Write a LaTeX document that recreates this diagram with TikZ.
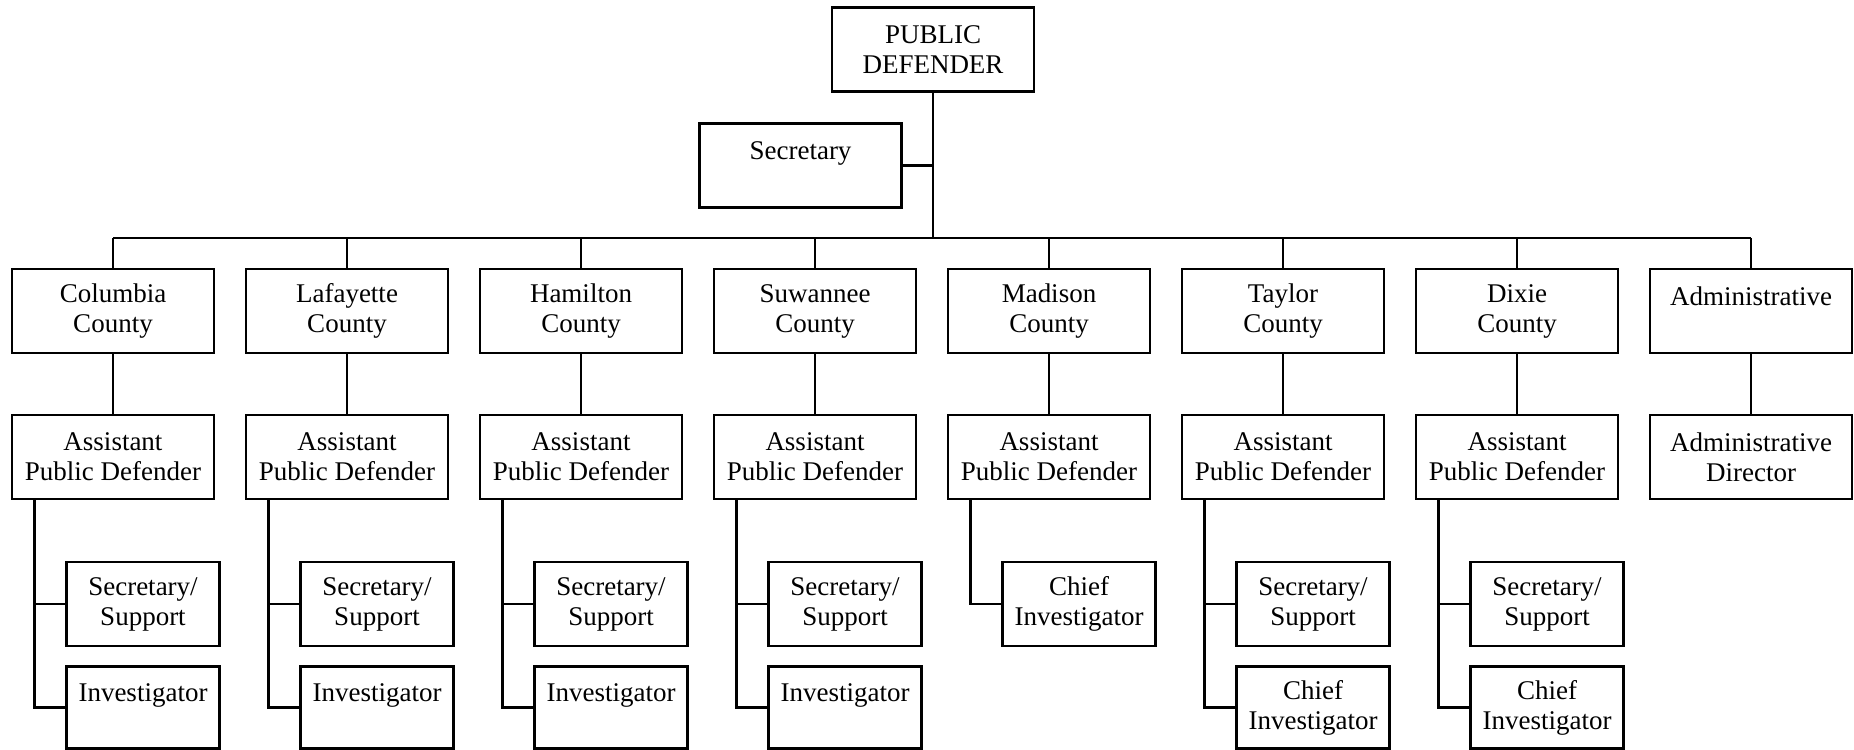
\documentclass[tikz,border=0pt]{standalone}
\usepackage{fontspec}
\setmainfont{Liberation Serif}
\usepackage{tikz}

\begin{document}
\begin{tikzpicture}[x=0.5pt, y=-0.5pt, line width=1.3pt,
		font=\fontsize{13.5}{15}\selectfont,
		unit/.style={draw, align=center, inner sep=2pt,
			minimum width=101pt, minimum height=42pt},
		staff/.style={draw, align=center, inner sep=2pt,
			minimum width=76.5pt, minimum height=42pt}]
	\useasboundingbox (0, 0) rectangle (1854, 750);

	\node[unit] (pd) at (933, 49.5) {PUBLIC\\DEFENDER};
	\node[unit] (sec) at (800.5, 165.5) {Secretary\\~};
	\coordinate (bus) at (933, 238);
	\draw (pd) -- (bus);
	\draw (sec) -- (sec -| pd);

	\foreach \nm/\cty [count=\i from 0] in {col/Columbia, laf/Lafayette,
			ham/Hamilton, suw/Suwannee, mad/Madison, tay/Taylor, dix/Dixie} {
			\node[unit] (\nm) at (113+234*\i, 311) {\cty\\County};
			\node[unit] (apd\nm) at (113+234*\i, 457) {Assistant\\Public Defender};
			\coordinate (trunk\nm) at ([xshift=11.75pt]apd\nm.south west);
			\draw (\nm) -- (apd\nm);
		}

	\node[unit] (adm) at (1751, 311) {Administrative\\~};
	\node[unit] (admdir) at (1751, 457) {Administrative\\Director};
	\draw (adm) -- (admdir);

	\draw (bus -| col) -- (bus -| adm);
	\foreach \nm in {col, laf, ham, suw, mad, tay, dix, adm} {
			\draw (\nm.north) -- (\nm.north |- bus);
		}

	% staff under each assistant
	\foreach \nm/\i in {col/0, laf/1, ham/2, suw/3, tay/5, dix/6} {
			\node[staff] (sec\nm) at (143+234*\i, 604) {Secretary/\\Support};
			\draw (sec\nm.west) -- (sec\nm.west -| trunk\nm);
		}
	\foreach \nm/\i in {col/0, laf/1, ham/2, suw/3} {
			\node[staff, minimum height=41pt] (inv\nm) at (143+234*\i, 707.5) {Investigator\\~};
		}
	\foreach \nm/\i in {tay/5, dix/6} {
			\node[staff, minimum height=41pt] (inv\nm) at (143+234*\i, 707.5) {Chief\\Investigator};
		}
	\node[staff] (invmad) at (143+234*4, 604) {Chief\\Investigator};

	\foreach \nm in {col, laf, ham, suw, mad, tay, dix} {
			\draw (trunk\nm) |- (inv\nm.west);
		}
\end{tikzpicture}
\end{document}
